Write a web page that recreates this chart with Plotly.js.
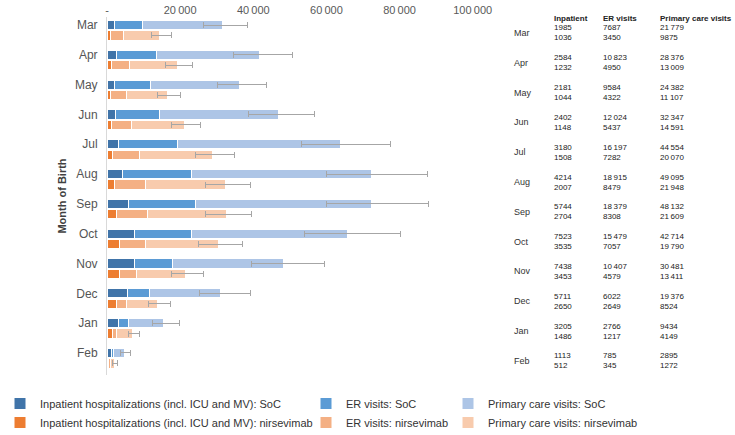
<!DOCTYPE html>
<html>
<head>
<meta charset="utf-8">
<script src="https://cdn.plot.ly/plotly-3.0.1.min.js"></script>
<style>html,body{margin:0;padding:0;background:#fff;}#chart{width:735px;height:435px;}</style>
</head>
<body>
<div id="chart"></div>
<script>
// ---- data ----
const months = ['Mar','Apr','May','Jun','Jul','Aug','Sep','Oct','Nov','Dec','Jan','Feb'];
const inpatientSoC  = [1985,2584,2181,2402,3180,4214,5744,7523,7438,5711,3205,1113];
const inpatientNirs = [1036,1232,1044,1148,1508,2007,2704,3535,3453,2650,1486,512];
const erSoC  = [7687,10823,9584,12024,16197,18915,18379,15479,10407,6022,2766,785];
const erNirs = [3450,4950,4322,5437,7282,8479,8308,7057,4579,2649,1217,345];
const pcSoC  = [21779,28376,24382,32347,44554,49095,48132,42714,30481,19376,9434,2895];
const pcNirs = [9875,13009,11107,14591,20070,21948,21609,19790,13411,8524,4149,1272];
// total uncertainty bounds
const socLow   = [26300,34500,30100,38700,53200,60000,59900,54000,39600,25300,12400,3750];
const socHigh  = [38400,50700,43600,56800,77600,87600,87800,80300,59500,39300,19700,6500];
const nirsLow  = [12050,15900,13700,17700,24100,26900,26900,25100,17600,11400,5750,1600];
const nirsHigh = [17500,23300,20000,25700,35000,39300,39600,37100,26400,17300,8850,2900];
const xTickVals = [0,20000,40000,60000,80000,100000];
const xTickText = ['-','20\u2009000','40\u2009000','60\u2009000','80\u2009000','100\u2009000'];
const tableHeaders = ['Inpatient','ER visits','Primary care visits'];

// ---- helpers ----
const FONT = '"Liberation Sans", Arial, Helvetica, sans-serif';
const L = 107, T = 17, W = 373, H = 358;
const px = v => (v - L) / W;
const py = v => (T + H - v) / H;
const fmt = n => n >= 10000 ? Math.floor(n/1000) + '\u2009' + String(n % 1000).padStart(3,'0') : String(n);

const posSoC = months.map((m,i) => i);
const posNirs = months.map((m,i) => i + 0.35);
const totSoC = months.map((m,i) => inpatientSoC[i] + erSoC[i] + pcSoC[i]);
const totNirs = months.map((m,i) => inpatientNirs[i] + erNirs[i] + pcNirs[i]);

const barW = 0.31;
const sep = {color:'#ffffff', width:1};
function bar(name, x, y, color, legend, err) {
  const t = {type:'bar', orientation:'h', name, x, y, width: barW,
    marker:{color, line: sep}, legend, hoverinfo:'x+name'};
  if (err) t.error_x = err;
  return t;
}
const errStyle = {color:'#a6a6a6', thickness:1, width:3};
const errSoC = Object.assign({type:'data', symmetric:false,
  array: socHigh.map((v,i)=>v-totSoC[i]), arrayminus: socLow.map((v,i)=>totSoC[i]-v)}, errStyle);
const errNirs = Object.assign({type:'data', symmetric:false,
  array: nirsHigh.map((v,i)=>v-totNirs[i]), arrayminus: nirsLow.map((v,i)=>totNirs[i]-v)}, errStyle);

const data = [
  bar('Inpatient hospitalizations (incl. ICU and MV): SoC', inpatientSoC, posSoC, '#4074a9', 'legend'),
  bar('Inpatient hospitalizations (incl. ICU and MV): nirsevimab', inpatientNirs, posNirs, '#ed7d31', 'legend'),
  bar('ER visits: SoC', erSoC, posSoC, '#5b9bd5', 'legend2'),
  bar('ER visits: nirsevimab', erNirs, posNirs, '#f4b084', 'legend2'),
  bar('Primary care visits: SoC', pcSoC, posSoC, '#adc5e6', 'legend3', errSoC),
  bar('Primary care visits: nirsevimab', pcNirs, posNirs, '#f8cbad', 'legend3', errNirs)
];

// ---- table annotations ----
const ann = [];
const colX = [552, 601, 658];
const cellFont = {family:FONT, size:8, color:'#222'};
tableHeaders.forEach((h,j) => ann.push({text:'<b>'+h+'</b>', x:px(colX[j]), y:py(18), font:cellFont}));
const socCols = [inpatientSoC, erSoC, pcSoC];
const nirsCols = [inpatientNirs, erNirs, pcNirs];
months.forEach((m,i) => {
  const yc = 33 + 29.8*i;
  ann.push({text:m, x:px(512), y:py(yc), font:{family:FONT, size:9, color:'#333'}});
  for (let j=0;j<3;j++) {
    ann.push({text:fmt(socCols[j][i]) + '<br>' + fmt(nirsCols[j][i]), x:px(colX[j]), y:py(yc), align:'left', font:cellFont});
  }
});
ann.forEach(a => {
  a.xref='paper'; a.yref='paper'; a.xanchor='left'; a.yanchor='middle'; a.showarrow=false;
});

const legBase = {orientation:'v', traceorder:'normal', yanchor:'bottom', y:py(437), xanchor:'left',
  font:{family:FONT, size:11, color:'#333'}, bgcolor:'rgba(0,0,0,0)', tracegroupgap:0, itemclick:false};

const layout = {
  width:735, height:435,
  margin:{l:L, r:735-L-W, t:T, b:435-T-H, pad:0, autoexpand:false},
  paper_bgcolor:'#ffffff', plot_bgcolor:'#ffffff',
  font:{family:FONT, color:'#444'},
  barmode:'stack',
  xaxis:{side:'top', range:[0,102000], tickvals:xTickVals, ticktext:xTickText,
    showgrid:false, zeroline:false, showline:false, ticks:'', automargin:false,
    tickfont:{family:FONT, size:11, color:'#595959'}, fixedrange:true},
  yaxis:{range:[11.74,-0.27], tickvals:posSoC, ticktext:months,
    showgrid:false, zeroline:false, showline:true, linecolor:'#d9d9d9', linewidth:1,
    ticks:'', ticklabelstandoff:6, automargin:false,
    tickfont:{family:FONT, size:12, color:'#555'},
    title:{text:'<b>Month of Birth</b>', font:{family:FONT, size:11, color:'#404040'}, standoff:6},
    fixedrange:true},
  showlegend:true,
  legend: Object.assign({}, legBase, {x:px(0)}),
  legend2: Object.assign({}, legBase, {x:px(306)}),
  legend3: Object.assign({}, legBase, {x:px(448)}),
  annotations: ann
};

Plotly.newPlot('chart', data, layout, {displayModeBar:false, staticPlot:true});
</script>
</body>
</html>
